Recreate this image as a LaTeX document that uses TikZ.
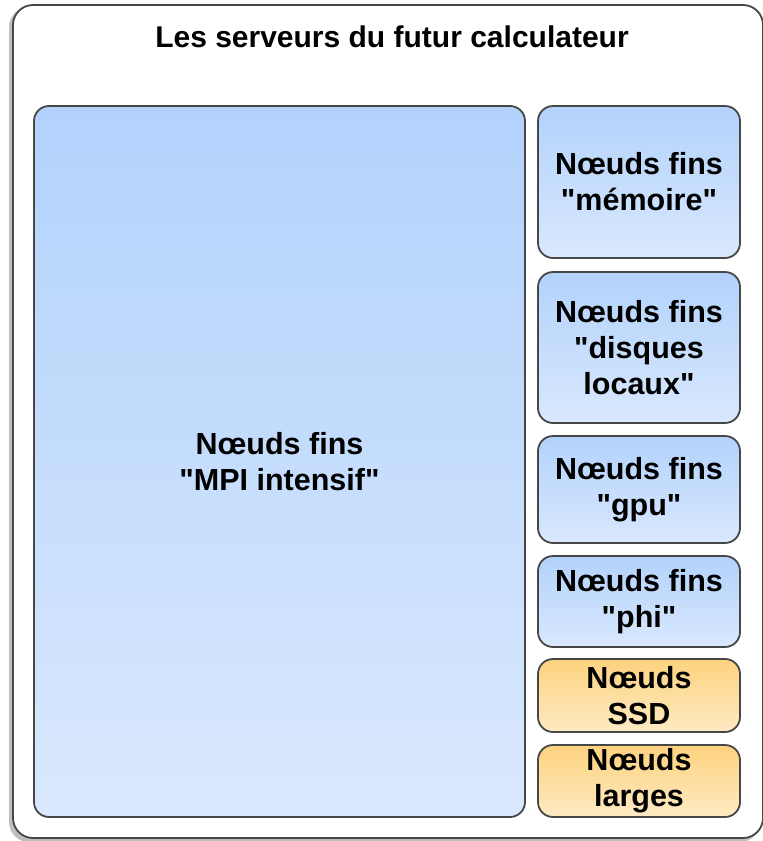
\documentclass[tikz,border=0pt]{standalone}
\usepackage{fontspec}
\newfontfamily\lsans{Liberation Sans}
\definecolor{bluetop}{HTML}{B2D2FC}
\definecolor{bluebot}{HTML}{D9E8FD}
\definecolor{orgtop}{HTML}{FDD27E}
\definecolor{orgbot}{HTML}{FEEAC3}
\definecolor{edge}{HTML}{474747}
\tikzset{
  box/.style={draw=edge, line width=1.8pt, rounded corners=15pt, inner sep=0pt,
    align=center, font=\lsans\fontsize{30.5}{36}\selectfont\bfseries},
  bluebox/.style={box, top color=bluetop, bottom color=bluebot},
  orgbox/.style={box, top color=orgtop, bottom color=orgbot},
}
\begin{document}
\begin{tikzpicture}[x=1pt,y=-1pt]
\useasboundingbox (0,0) rectangle (763,841);
% outer frame with shadow
\fill[black!55, rounded corners=20pt] (10,8) rectangle (759,841);
\fill[black!25, rounded corners=20pt] (9,7) rectangle (760,842);
\node[draw=edge, line width=1.8pt, rounded corners=20pt, fill=white, inner sep=0pt,
  minimum width=750pt, minimum height=833pt] (outer) at (388,421.5) {};
\node[anchor=base, font=\lsans\fontsize{30}{34}\selectfont\bfseries] (title) at (392,47) {Les serveurs du futur calculateur};
\node[bluebox, minimum width=491pt, minimum height=711pt] (mpi) at (279.5,461.5) {Nœuds fins\\"MPI intensif"};
\node[bluebox, minimum width=202pt, minimum height=152pt] (mem) at (639,182) {Nœuds fins\\"mémoire"};
\node[bluebox, minimum width=202pt, minimum height=151pt] (disq) at (639,347.5) {Nœuds fins\\"disques\\locaux"};
\node[bluebox, minimum width=202pt, minimum height=107pt] (gpu) at (639,489.5) {Nœuds fins\\"gpu"};
\node[bluebox, minimum width=202pt, minimum height=91pt] (phi) at (639,601.5) {Nœuds fins\\"phi"};
\node[orgbox, minimum width=202pt, minimum height=73pt] (ssd) at (639,695.5) {Nœuds\\SSD};
\node[orgbox, minimum width=202pt, minimum height=72pt] (larges) at (639,781) {Nœuds\\larges};
\end{tikzpicture}
\end{document}
